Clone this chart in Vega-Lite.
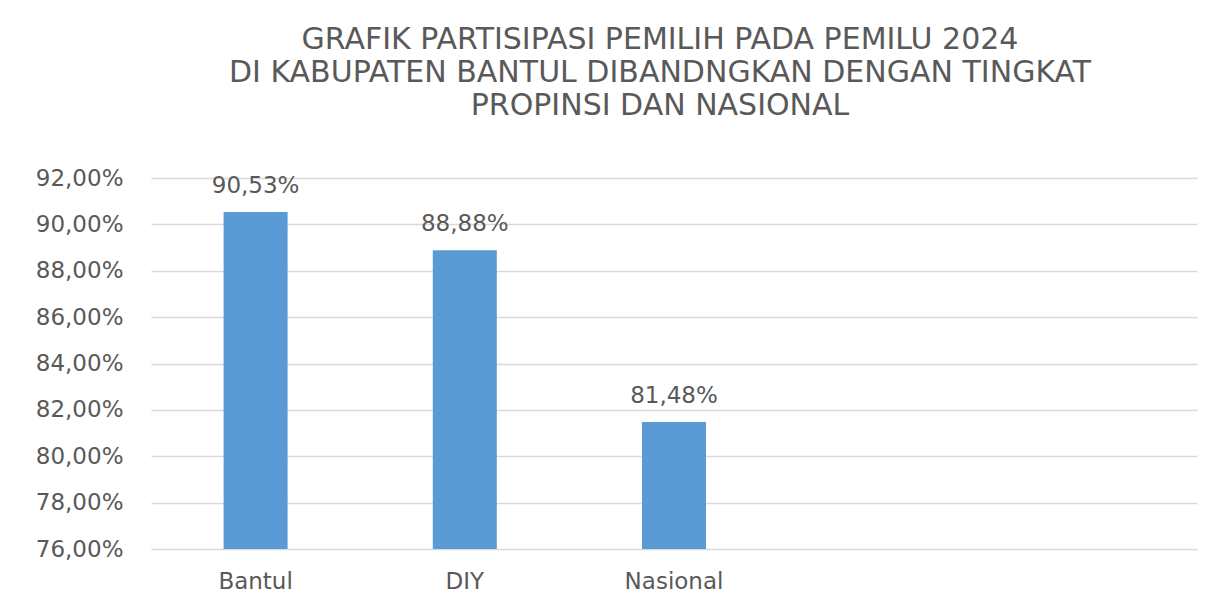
{
  "$schema": "https://vega.github.io/schema/vega-lite/v6.json",
  "autosize": "none",
  "width": 1046,
  "height": 371,
  "padding": {"left": 151, "top": 178, "right": 31, "bottom": 61},
  "background": "white",
  "config": {
    "locale": {"number": {"decimal": ",", "thousands": ".", "grouping": [3], "currency": ["", ""]}},
    "view": {"stroke": null},
    "font": "DejaVu Sans"
  },
  "title": {
    "text": ["GRAFIK PARTISIPASI PEMILIH PADA PEMILU 2024", "DI KABUPATEN BANTUL DIBANDNGKAN DENGAN TINGKAT", "PROPINSI DAN NASIONAL"],
    "anchor": "middle",
    "fontSize": 30,
    "lineHeight": 33,
    "fontWeight": "normal",
    "color": "#595959",
    "font": "DejaVu Sans",
    "offset": 46,
    "dx": -14
  },
  "data": {
    "values": [
      {"wilayah": "Bantul", "partisipasi": 0.9053},
      {"wilayah": "DIY", "partisipasi": 0.8888},
      {"wilayah": "Nasional", "partisipasi": 0.8148}
    ]
  },
  "encoding": {
    "x": {
      "field": "wilayah",
      "type": "nominal",
      "sort": null,
      "scale": {"domain": ["Bantul", "DIY", "Nasional", " ", "  "], "paddingInner": 0.694, "paddingOuter": 0.347},
      "axis": {
        "title": null,
        "labelAngle": 0,
        "domain": false,
        "ticks": false,
        "labelFontSize": 23,
        "labelColor": "#595959",
        "labelPadding": 21,
        "labelFont": "DejaVu Sans"
      }
    },
    "y": {
      "field": "partisipasi",
      "type": "quantitative",
      "scale": {"domain": [0.76, 0.92], "nice": false, "zero": false},
      "axis": {
        "title": null,
        "format": ".2%",
        "values": [0.76, 0.78, 0.80, 0.82, 0.84, 0.86, 0.88, 0.90, 0.92],
        "domain": false,
        "ticks": false,
        "grid": true,
        "gridColor": "#D9D9D9",
        "gridWidth": 1.3,
        "labelFontSize": 23,
        "labelColor": "#595959",
        "labelPadding": 28,
        "labelFont": "DejaVu Sans"
      }
    }
  },
  "layer": [
    {"mark": {"type": "bar", "color": "#5B9BD5", "clip": true}},
    {
      "mark": {"type": "text", "baseline": "alphabetic", "dy": -19, "fontSize": 23, "color": "#595959", "font": "DejaVu Sans"},
      "encoding": {"text": {"field": "partisipasi", "type": "quantitative", "format": ".2%"}}
    }
  ]
}
